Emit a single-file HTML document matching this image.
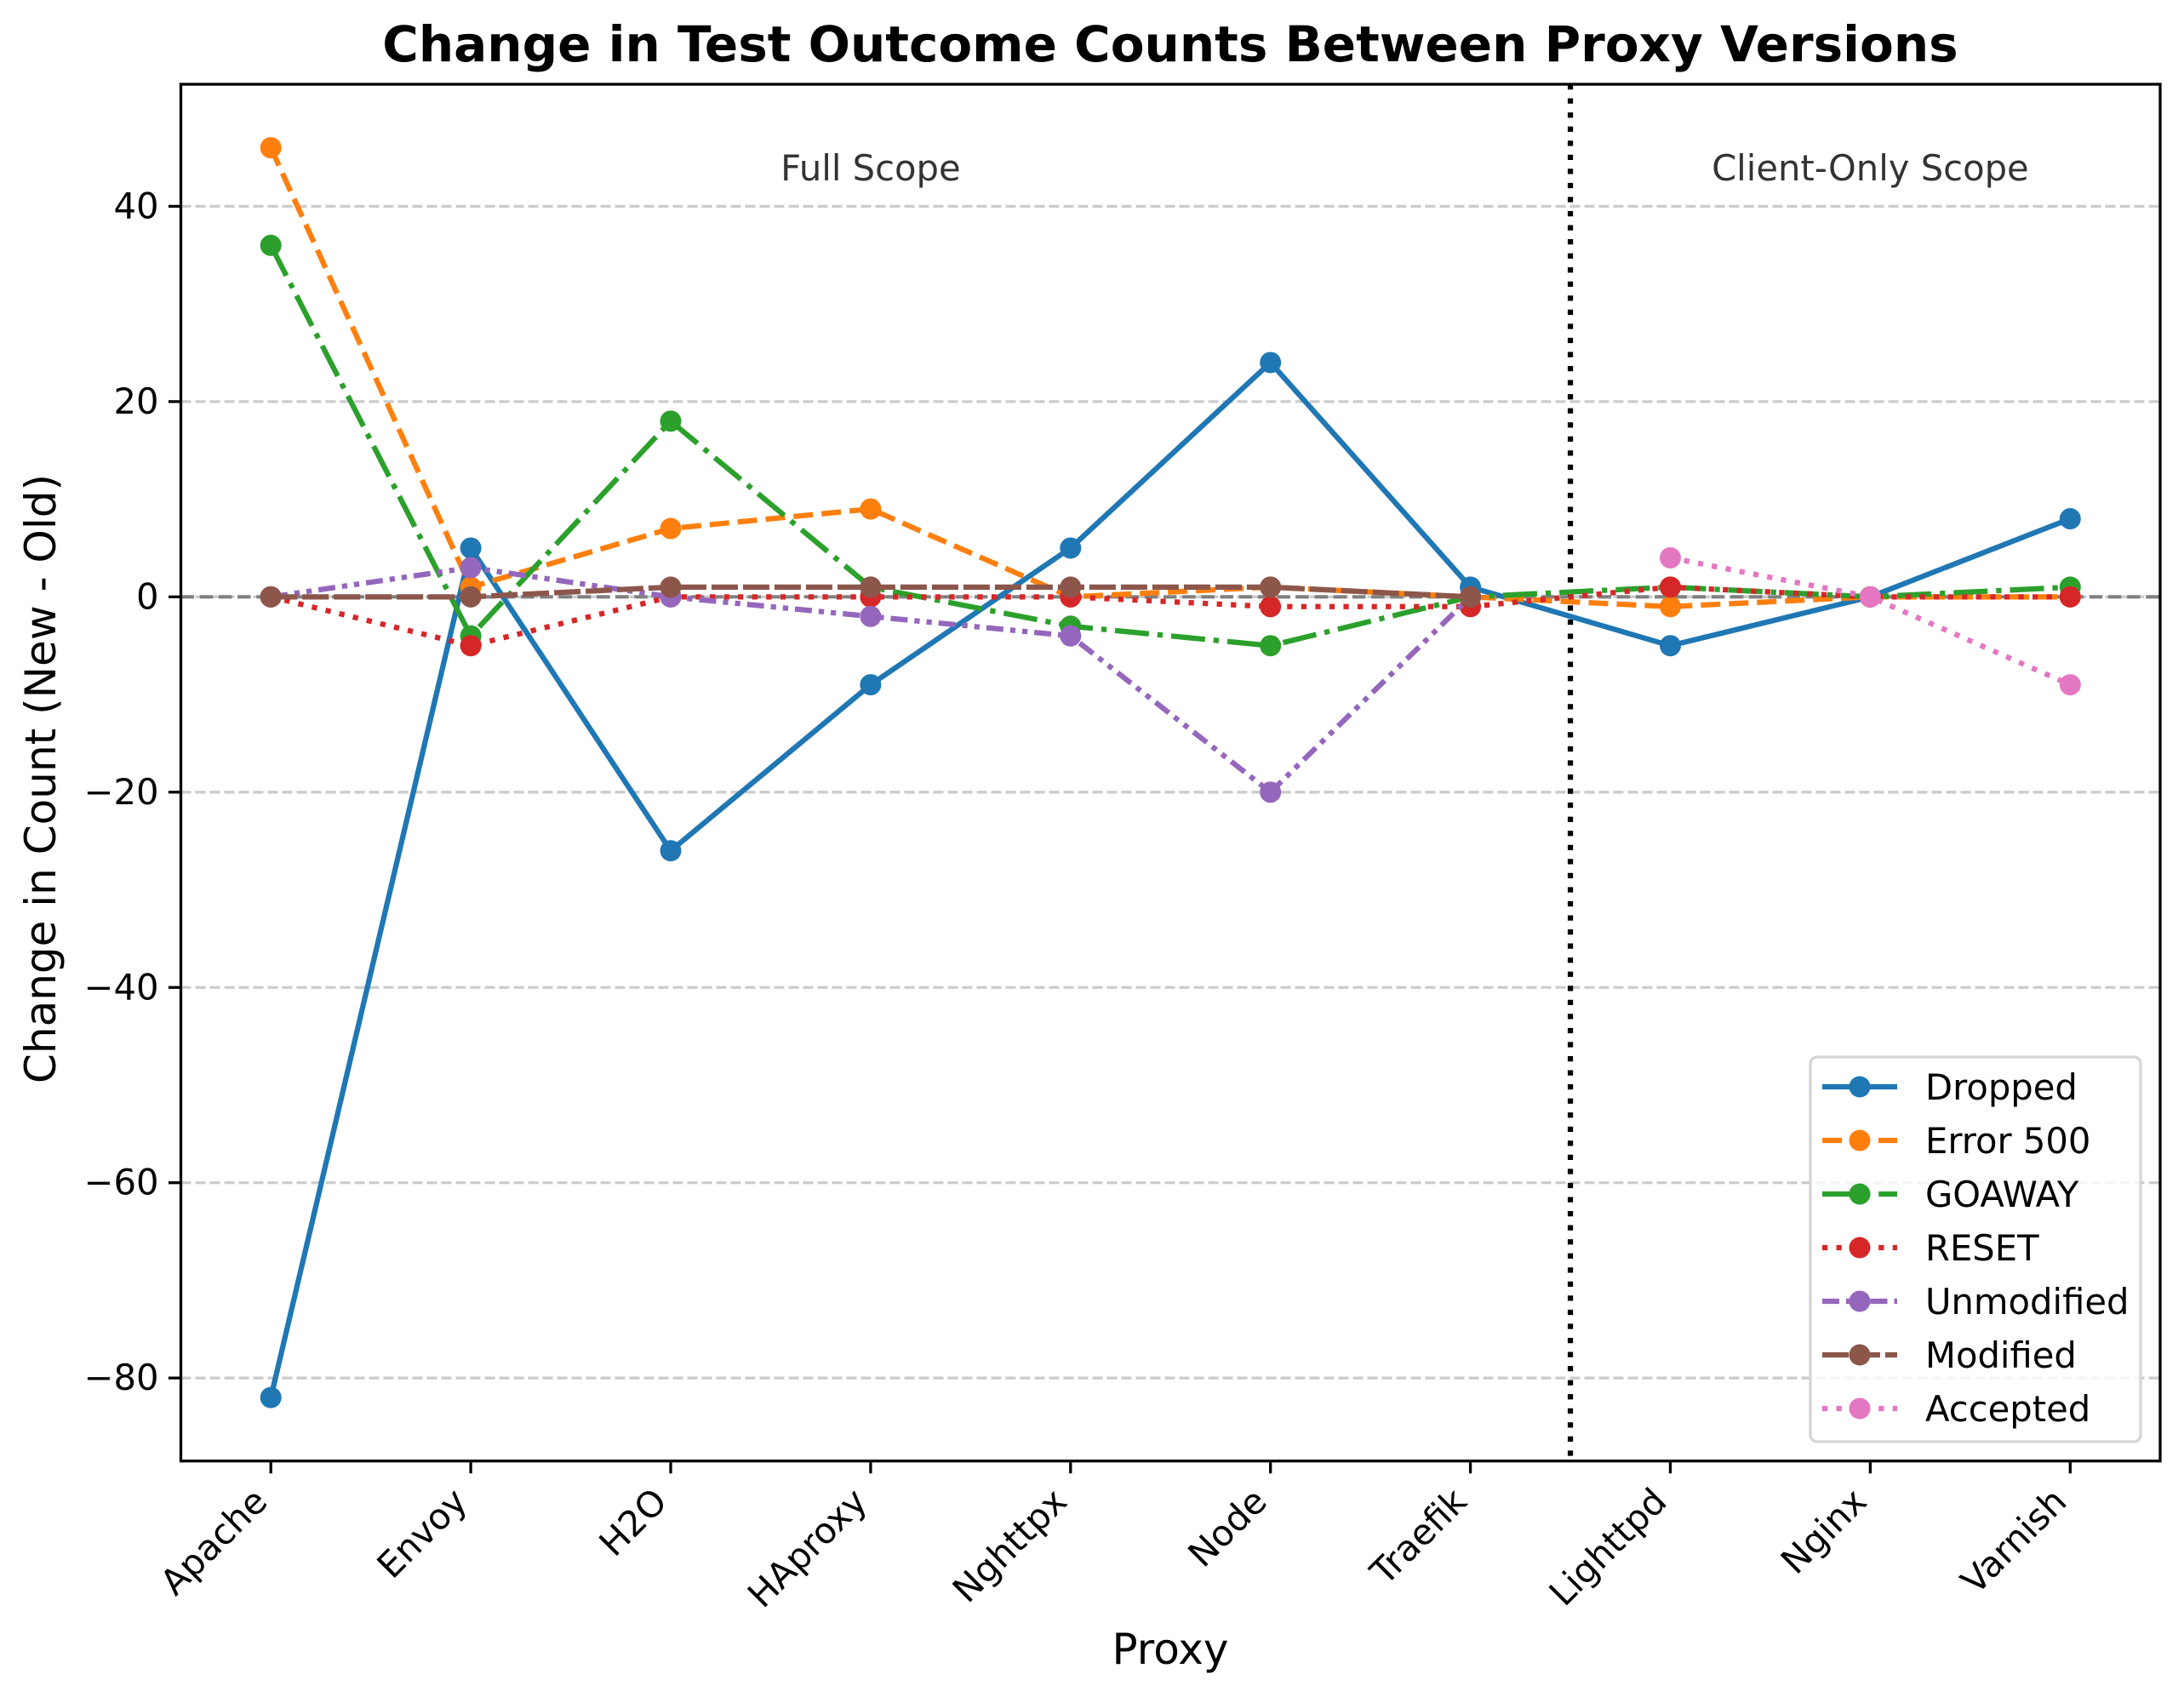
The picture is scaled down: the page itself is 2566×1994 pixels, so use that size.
<!DOCTYPE html>
<html><head><meta charset="utf-8"><style>
body{margin:0;background:#fff}
svg{display:block;font-family:"DejaVu Sans","Liberation Sans",sans-serif}
</style></head><body>
<svg id="chart" width="2566" height="1994" viewBox="0 0 2566 1994" xmlns="http://www.w3.org/2000/svg">
<rect width="2566" height="1994" fill="#fff"/>
<text x="1375" y="72" text-anchor="middle" font-size="58" font-weight="bold">Change in Test Outcome Counts Between Proxy Versions</text>
<g id="grid"></g>
<g id="plot"></g>
<g id="axes"></g>
<text x="1375" y="1955" text-anchor="middle" font-size="50">Proxy</text>
<text transform="translate(65,915) rotate(-90)" text-anchor="middle" font-size="50">Change in Count (New - Old)</text>
<g id="legend"></g>
</svg>
<script>
const categories = ["Apache","Envoy","H2O","HAproxy","Nghttpx","Node","Traefik","Lighttpd","Nginx","Varnish"];
const yTicks = [-80,-60,-40,-20,0,20,40];
const dropped = [-82,5,-26,-9,5,24,1,-5,0,8];
const error500 = [46,1,7,9,0,1,0,-1,0,0];
const goaway = [36,-4,18,1,-3,-5,0,1,0,1];
const reset = [0,-5,0,0,0,-1,-1,1,0,0];
const unmodified = [0,3,0,-2,-4,-20,0,null,null,null];
const modified = [0,0,1,1,1,1,0,null,null,null];
const accepted = [null,null,null,null,null,null,null,4,0,-9];
const scopeLabels = ["Full Scope","Client-Only Scope"];

const L=212.5,R=2538,T=99,B=1716.7;
const xMin=-0.45,xMax=9.45,yMin=-88.5,yMax=52.5;
const X=i=>L+(i-xMin)/(xMax-xMin)*(R-L);
const Y=v=>T+(yMax-v)/(yMax-yMin)*(B-T);
const NS="http://www.w3.org/2000/svg";
function mk(tag,attrs,parent){const e=document.createElementNS(NS,tag);for(const k in attrs)e.setAttribute(k,attrs[k]);parent.appendChild(e);return e;}
const grid=document.getElementById('grid'),plot=document.getElementById('plot'),axes=document.getElementById('axes'),legend=document.getElementById('legend');

yTicks.forEach(v=>{
  const g=mk('line',{x1:L,x2:R,y1:Y(v),y2:Y(v),stroke:'#cccccc','stroke-width':3.3,'stroke-dasharray':'12,5'},grid);
  
  
  const t=mk('line',{x1:L-14.6,x2:L,y1:Y(v),y2:Y(v),stroke:'#000','stroke-width':3.3},axes);
  
  
  const lb=mk('text',{x:L-26,y:Y(v)+14,'text-anchor':'end','font-size':41.7},axes);
  
  
  lb.textContent=(v<0?'\u2212'+(-v):String(v));
});
const zl=mk('line',{x1:L,x2:R,y1:Y(0),y2:Y(0),stroke:'#808080','stroke-width':4.2,'stroke-dasharray':'15.5,6.7'},grid);


const vl=mk('line',{x1:X(6.5),x2:X(6.5),y1:T,y2:B,stroke:'#000','stroke-width':6.25,'stroke-dasharray':'6.25,10.3'},grid);


[[3,0],[8,1]].forEach(([i,k])=>{
  const t=mk('text',{x:X(i),y:Y(45)+27,'text-anchor':'middle','font-size':41.7,fill:'#333'},grid);
  
  
  t.textContent=scopeLabels[k];
});

const series=[
 {name:'Dropped',data:dropped,color:'#1f77b4',dash:''},
 {name:'Error 500',data:error500,color:'#ff7f0e',dash:'23,10'},
 {name:'GOAWAY',data:goaway,color:'#2ca02c',dash:'40,10,6.25,10'},
 {name:'RESET',data:reset,color:'#d62728',dash:'6.25,10.3'},
 {name:'Unmodified',data:unmodified,color:'#9467bd',dash:'20,8,6.25,8,6.25,8'},
 {name:'Modified',data:modified,color:'#8c564b',dash:'31,6'},
 {name:'Accepted',data:accepted,color:'#e377c2',dash:'6.25,10.3'}
];
series.forEach((s,si)=>{
  let d='',pen=false;
  s.data.forEach((v,i)=>{if(v===null){pen=false;return;}d+=(pen?'L':'M')+X(i)+' '+Y(v)+' ';pen=true;});
  const p=mk('path',{d:d,fill:'none',stroke:s.color,'stroke-width':6.25,'stroke-dasharray':s.dash||'none'},plot);
  
  
  s.data.forEach((v,i)=>{if(v===null)return;
    const c=mk('circle',{cx:X(i),cy:Y(v),r:12.5,fill:s.color},plot);
    
    
  });
  const ly=1277+si*63;
  const ll=mk('line',{x1:2141,x2:2229,y1:ly,y2:ly,stroke:s.color,'stroke-width':6.25,'stroke-dasharray':s.dash||'none'},legend);
  
  
  const lc=mk('circle',{cx:2185,cy:ly,r:12.5,fill:s.color},legend);
  
  
  const lt=mk('text',{x:2262,y:ly+15,'font-size':41.7},legend);
  
  
  lt.textContent=s.name;
});
const lbox=mk('rect',{x:2127,y:1242,width:388,height:452,rx:8,fill:'rgba(255,255,255,0.8)',stroke:'#d5d5d5','stroke-width':3.3},legend);


legend.insertBefore(lbox,legend.firstChild);

categories.forEach((c,i)=>{
  const t=mk('line',{x1:X(i),x2:X(i),y1:B,y2:B+14.6,stroke:'#000','stroke-width':3.3},axes);
  
  
  const lb=mk('text',{transform:'translate('+(X(i)-2)+','+(B+50)+') rotate(-45)','text-anchor':'end','font-size':41.7},axes);
  
  
  lb.textContent=c;
});
const fr=mk('rect',{x:L,y:T,width:R-L,height:B-T,fill:'none',stroke:'#000','stroke-width':3.3},axes);


</script>
</body></html>
